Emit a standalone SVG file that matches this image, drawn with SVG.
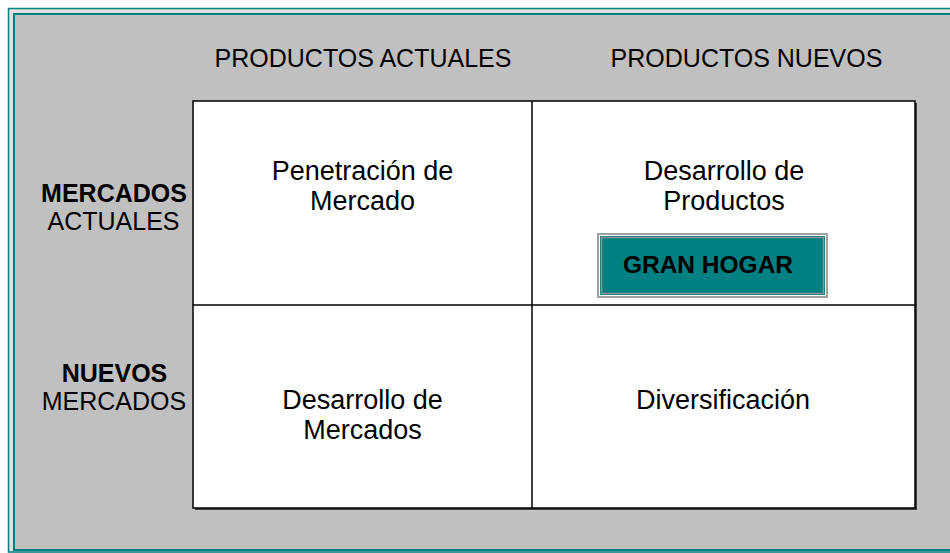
<svg xmlns="http://www.w3.org/2000/svg" width="950" height="553" viewBox="0 0 950 553">
<style>
.t{font-family:"Liberation Sans",Arial,sans-serif;fill:#000;text-anchor:middle}
.h{font-size:25px}
.c{font-size:27px}
.b{font-weight:bold}
</style>
<rect x="0" y="0" width="950" height="553" fill="#ffffff"/>
<g id="frame">
<rect x="8" y="8" width="950" height="553" fill="#e0e0e0"/>
<rect x="8.5" y="8.5" width="950" height="543.5" fill="none" stroke="#008080" stroke-width="1.5"/>
<rect x="14" y="14" width="950" height="536" fill="#c0c0c0" stroke="#008080" stroke-width="2"/>
</g>
<g id="headers">
<text class="t h" x="363" y="67">PRODUCTOS ACTUALES</text>
<text class="t h" x="746.5" y="67">PRODUCTOS NUEVOS</text>
</g>
<g id="row-labels">
<text class="t h b" x="114" y="201.5">MERCADOS</text>
<text class="t h" x="113.5" y="230">ACTUALES</text>
<text class="t h b" x="114.5" y="381.5">NUEVOS</text>
<text class="t h" x="114" y="409.5">MERCADOS</text>
</g>
<g id="grid">
<rect x="195" y="103" width="722" height="407" fill="#404040"/>
<rect x="193" y="101" width="722" height="407" fill="#ffffff" stroke="#000" stroke-width="1.5"/>
</g>
<g id="connectors">
<line x1="532" y1="101" x2="532" y2="508" stroke="#000" stroke-width="1.5"/>
<line x1="193" y1="305" x2="915" y2="305" stroke="#000" stroke-width="1.5"/>
</g>
<g id="cell-penetracion">
<text class="t c" x="362.5" y="180">Penetración de</text>
<text class="t c" x="362.5" y="210">Mercado</text>
</g>
<g id="cell-desarrollo-productos">
<text class="t c" x="724" y="179.5">Desarrollo de</text>
<text class="t c" x="724" y="209.5">Productos</text>
</g>
<g id="cell-desarrollo-mercados">
<text class="t c" x="362.5" y="409">Desarrollo de</text>
<text class="t c" x="362.5" y="439">Mercados</text>
</g>
<g id="cell-diversificacion">
<text class="t c" x="723" y="408.5">Diversificación</text>
</g>
<g id="gran-hogar">
<rect x="597" y="233" width="231" height="65" fill="#a0a0a0"/>
<rect x="599.5" y="235.5" width="226" height="60" fill="#008080" stroke="#ffffff" stroke-width="1"/>
<rect x="601.5" y="237.5" width="222" height="56" fill="#008080" stroke="#909090" stroke-width="1.5"/>
<text class="t b" x="708" y="272.5" font-size="24.5">GRAN HOGAR</text>
</g>
</svg>
